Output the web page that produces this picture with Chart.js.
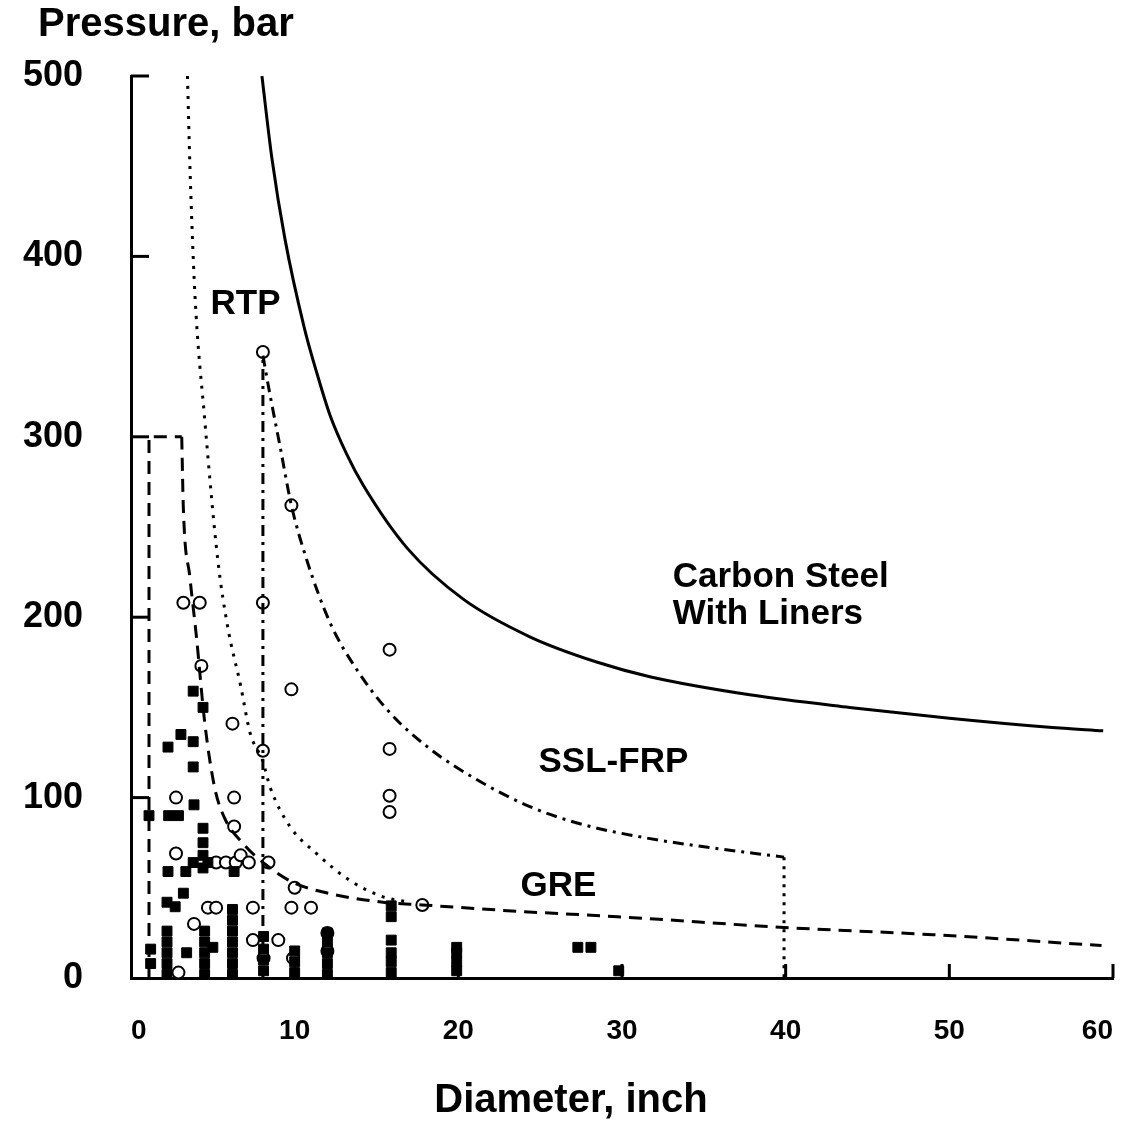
<!DOCTYPE html>
<html>
<head>
<meta charset="utf-8">
<script src="https://cdn.jsdelivr.net/npm/chart.js@4/dist/chart.umd.min.js"></script>
<style>
  html, body { margin: 0; padding: 0; background: #fff; }
  #wrap { width: 1123px; height: 1122px; }
</style>
</head>
<body>
<div id="wrap"><canvas id="chart" width="1123" height="1122"></canvas></div>
<script>
// boundary curves (diameter in inch, pressure in bar)
const carbonX = [8.0, 8.6, 9.4, 10.6, 11.4, 12.16, 13.2, 14.2, 16.9, 20.3, 24.4, 28.5, 31.7, 37.8, 43.9, 50.0, 56.1, 59.4];
const carbonY = [500, 455, 410, 360, 334, 312, 290, 273, 238, 210, 189, 175, 167, 157, 150, 144, 139, 137];

const rtpX = [3.45, 3.6, 3.9, 4.5, 5.3, 5.9, 6.7, 7.27, 8.06, 8.49, 9.71, 11.34, 13.38, 15.4, 17.0];
const rtpY = [500, 450, 380, 310, 232, 195, 162, 136, 120, 106, 84, 69, 54, 45, 42];

const sslX = [8.06, 8.5, 9.1, 9.8, 10.73, 12.16, 13.79, 15.82, 18.27, 21.12, 24.37, 27.63, 31.5, 34.8, 39.9];
const sslY = [345, 323, 295, 262, 232, 197, 171, 147, 127, 110, 95, 85, 77.6, 73, 67];
const sslLeftX = [8.06, 8.06];
const sslLeftY = [0, 345];
const sslRightX = [39.9, 39.9];
const sslRightY = [67, 0];

const greBoxX = [1.1, 1.1, 3.1];
const greBoxY = [0, 300, 300];
const greX = [3.1, 3.2, 3.6, 4.0, 4.5, 5.1, 5.7, 6.8, 8.5, 9.9, 12.3, 15.4, 17.8, 23.6, 29.7, 39.9, 49.0, 59.3];
const greY = [300, 260, 222, 189, 142, 106, 89, 75, 61, 53, 46.5, 42, 40.5, 37, 34, 28, 24, 18];

// open circles
const circleX = [8.06, 8.06, 8.06, 9.8, 9.8, 15.8, 15.8, 15.8, 15.8, 3.2, 4.2, 4.3, 6.2, 6.3, 6.3,
  2.75, 2.75, 5.2, 5.8, 6.4, 6.7, 7.2, 8.4, 4.7, 5.2, 7.45, 9.8, 11.0, 3.85, 7.45, 9.0,
  8.1, 9.9, 12.0, 12.0, 10.0, 17.8, 2.9];
const circleY = [347, 208, 126, 262, 160, 182, 127, 101, 92, 208, 208, 173, 141, 100, 84,
  100, 69, 64, 64, 64, 68, 64, 64, 39, 39, 39, 39, 39, 30, 21, 21,
  11, 11, 25, 15, 50, 40.5, 3];

// filled marks
const markX = [3.8, 4.4, 3.05, 3.8, 2.26, 3.8, 3.85, 1.1, 2.3, 2.9, 4.4, 4.4, 4.4, 4.4, 3.8, 4.7,
  2.26, 3.35, 6.3, 3.2, 2.2, 2.7,
  2.2, 2.2, 2.2, 2.2, 2.2, 4.5, 4.5, 4.5, 4.5, 4.5, 6.2, 6.2, 6.2, 6.2, 6.2, 6.2, 6.2,
  1.2, 1.2, 3.4, 5.0,
  8.1, 8.1, 8.1, 8.1, 10.0, 10.0, 10.0, 12.0, 12.0, 12.0, 12.0, 12.0,
  15.9, 15.9, 15.9, 15.9, 15.9, 15.9, 19.9, 19.9, 19.9, 19.9, 27.3, 28.1, 29.8];
const markY = [159, 150, 135, 131, 128, 117, 96, 90, 90, 90, 83, 75, 68, 61, 64, 64,
  59, 59, 59, 47, 42, 39.5,
  2, 8, 14, 20, 26, 2, 8, 14, 20, 26, 2, 8, 14, 20, 26, 32, 38,
  8, 16, 14, 17,
  4, 10, 16, 23, 3, 9, 15, 2, 8, 14, 20, 25,
  3, 9, 14, 21, 34, 40, 4, 9, 14, 17, 17, 17, 4];

const xTicks = [0, 10, 20, 30, 40, 50, 60];
const yTicks = [0, 100, 200, 300, 400, 500];

const pts = (xs, ys) => xs.map((x, i) => ({ x: x, y: ys[i] }));

const FONT = "'Liberation Sans', Arial, sans-serif";

const lineSet = (data, dash, smooth) => ({
  data: data,
  showLine: true,
  borderColor: '#000',
  borderWidth: 3,
  borderDash: dash,
  pointRadius: 0,
  tension: smooth ? 0.4 : 0,
  cubicInterpolationMode: smooth ? 'monotone' : 'default',
  fill: false
});

// text on the plot and inward tick marks
const decorations = {
  id: 'decorations',
  afterDraw(chart) {
    const ctx = chart.ctx;
    const xs = chart.scales.x, ys = chart.scales.y;
    ctx.save();
    ctx.strokeStyle = '#000';
    ctx.lineWidth = 3;
    yTicks.forEach(v => {
      if (v === 0) return;
      const py = ys.getPixelForValue(v);
      ctx.beginPath();
      ctx.moveTo(xs.left, py);
      ctx.lineTo(xs.left + 18, py);
      ctx.stroke();
    });
    xTicks.forEach(v => {
      if (v === 0) return;
      const px = xs.getPixelForValue(v);
      ctx.beginPath();
      ctx.moveTo(px, ys.bottom);
      ctx.lineTo(px, ys.bottom - 14);
      ctx.stroke();
    });

    ctx.fillStyle = '#000';
    ctx.textBaseline = 'alphabetic';
    ctx.textAlign = 'left';
    ctx.font = 'bold 40px ' + FONT;
    ctx.fillText('Pressure, bar', 38, 36);
    ctx.textAlign = 'center';
    ctx.fillText('Diameter, inch', 571, 1112);

    ctx.font = 'bold 35px ' + FONT;
    const labels = [
      { text: 'RTP', x: 7.0, y: 368, align: 'center' },
      { text: 'Carbon Steel', x: 33.1, y: 217, align: 'left' },
      { text: 'With Liners', x: 33.1, y: 196, align: 'left' },
      { text: 'SSL-FRP', x: 24.9, y: 114, align: 'left' },
      { text: 'GRE', x: 23.8, y: 45.5, align: 'left' }
    ];
    labels.forEach(l => {
      ctx.textAlign = l.align;
      ctx.fillText(l.text, xs.getPixelForValue(l.x), ys.getPixelForValue(l.y));
    });
    ctx.restore();
  }
};

new Chart(document.getElementById('chart').getContext('2d'), {
  type: 'scatter',
  data: {
    datasets: [
      lineSet(pts(carbonX, carbonY), [], true),
      lineSet(pts(rtpX, rtpY), [3, 7], true),
      lineSet(pts(sslX, sslY), [11, 6, 3, 6], true),
      lineSet(pts(sslLeftX, sslLeftY), [11, 6, 3, 6], false),
      lineSet(pts(sslRightX, sslRightY), [3, 6], false),
      lineSet(pts(greBoxX, greBoxY), [13, 8], false),
      lineSet(pts(greX, greY), [13, 8], true),
      {
        data: pts(markX, markY),
        pointStyle: 'rect',
        pointRadius: 7,
        backgroundColor: '#000',
        borderColor: '#000',
        borderWidth: 1
      },
      {
        data: pts(circleX, circleY),
        pointStyle: 'circle',
        pointRadius: 6,
        backgroundColor: '#fff',
        borderColor: '#000',
        borderWidth: 2
      }
    ]
  },
  options: {
    responsive: false,
    animation: false,
    layout: { autoPadding: false, padding: { top: 76, left: 0, right: 10, bottom: 0 } },
    plugins: { legend: { display: false }, tooltip: { enabled: false } },
    scales: {
      x: {
        type: 'linear',
        min: 0,
        max: 60,
        afterFit: s => { s.height = 144; s.paddingLeft = 0; s.paddingRight = 0; },
        afterBuildTicks: s => { s.ticks = xTicks.map(v => ({ value: v })); },
        border: { color: '#000', width: 3 },
        grid: { display: true, drawOnChartArea: false, drawTicks: false },
        ticks: { color: '#000', padding: 36, align: 'inner', font: { family: FONT, size: 28, weight: 'bold' } }
      },
      y: {
        type: 'linear',
        min: 0,
        max: 500,
        afterFit: s => { s.width = 131; s.paddingTop = 0; s.paddingBottom = 0; },
        afterBuildTicks: s => { s.ticks = yTicks.map(v => ({ value: v })); },
        border: { color: '#000', width: 3 },
        grid: { display: true, drawOnChartArea: false, drawTicks: false },
        ticks: { color: '#000', padding: 48, font: { family: FONT, size: 36, weight: 'bold' } }
      }
    }
  },
  plugins: [decorations]
});
</script>
</body>
</html>
